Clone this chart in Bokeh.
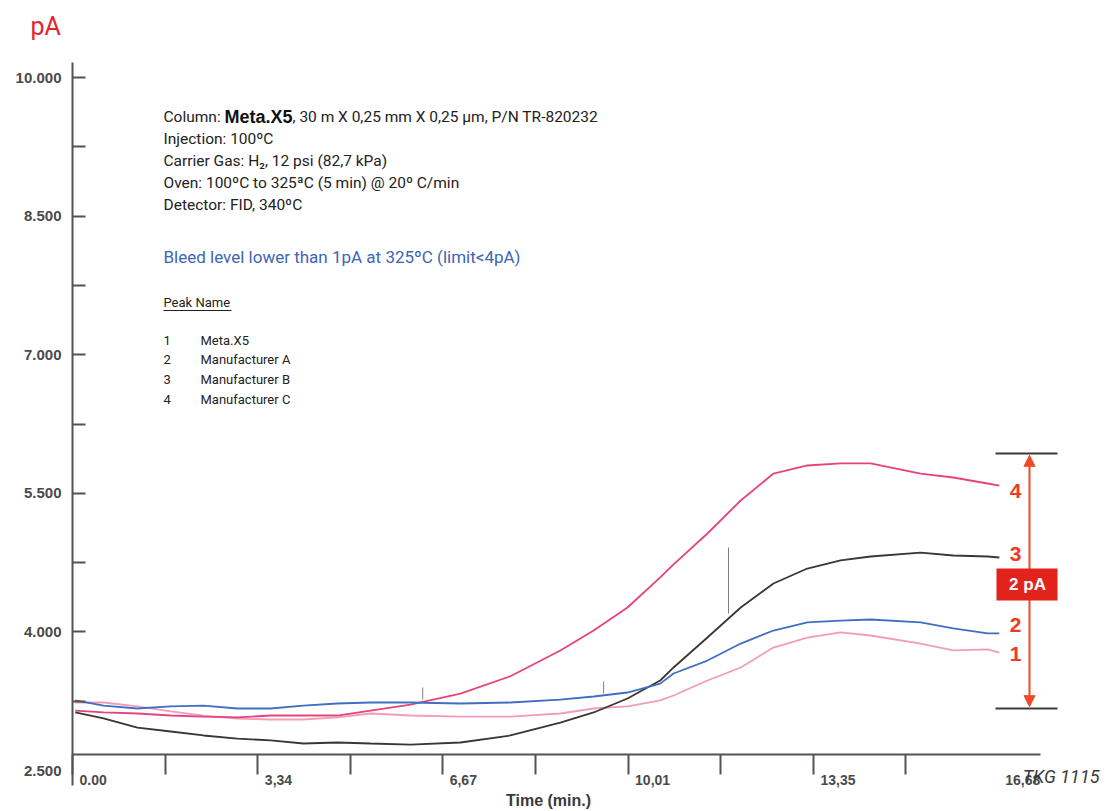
import numpy as np
from bokeh.plotting import figure
from bokeh.models import (LinearAxis, FixedTicker, NumeralTickFormatter, Arrow,
                          NormalHead, Range1d, CustomJSTickFormatter)
from bokeh.core.properties import value
from bokeh.embed import file_html
from bokeh.resources import INLINE

# ---------------- data ----------------
time_min = [0.05, 0.56, 1.17, 1.77, 2.36, 2.97, 3.57, 4.16, 4.77, 5.37, 6.09, 6.99,
            7.89, 8.79, 9.39, 10.00, 10.59, 10.83, 11.44, 12.04, 12.63, 13.24,
            13.84, 14.38, 15.28, 15.87, 16.49, 16.70]

meta_x5 = [3.236, 3.236, 3.193, 3.139, 3.095, 3.063, 3.052, 3.052, 3.074, 3.117,
           3.095, 3.084, 3.084, 3.117, 3.171, 3.193, 3.258, 3.312, 3.474, 3.615,
           3.831, 3.939, 3.994, 3.961, 3.874, 3.799, 3.810, 3.777]
manuf_a = [3.258, 3.203, 3.171, 3.193, 3.203, 3.171, 3.171, 3.203, 3.225, 3.236,
           3.236, 3.225, 3.236, 3.268, 3.301, 3.344, 3.440, 3.550, 3.690, 3.874,
           4.015, 4.102, 4.123, 4.134, 4.102, 4.037, 3.983, 3.983]
manuf_b = [3.128, 3.063, 2.965, 2.922, 2.879, 2.846, 2.825, 2.792, 2.803, 2.792,
           2.781, 2.803, 2.879, 3.019, 3.128, 3.279, 3.474, 3.615, 3.939, 4.264,
           4.524, 4.686, 4.773, 4.816, 4.859, 4.827, 4.816, 4.805]
manuf_c = [3.149, 3.128, 3.117, 3.095, 3.084, 3.074, 3.095, 3.095, 3.095, 3.149,
           3.214, 3.333, 3.520, 3.799, 4.015, 4.264, 4.590, 4.730, 5.065, 5.422,
           5.714, 5.801, 5.823, 5.823, 5.714, 5.671, 5.606, 5.584]

# small spikes in the traces
spike_t = [6.31, 9.57, 11.82]
spike_base = [3.268, 3.333, 4.199]
spike_top = [3.398, 3.463, 4.913]

peak_numbers = ["1", "2", "3", "4"]
peak_names = ["Meta.X5", "Manufacturer A", "Manufacturer B", "Manufacturer C"]
peak_label_values = [3.766, 4.080, 4.848, 5.530]

x_tick_values = [0, 3.34, 6.67, 10.01, 13.35, 16.68]
x_tick_labels = ["0.00", "3,34", "6,67", "10,01", "13,35", "16,68"]
x_minor_ticks = [1.67, 5.0, 8.34, 11.68, 15.01]
y_major_ticks = [4, 5.5, 7, 8.5, 10]
y_minor_ticks = [3.25, 4.75, 6.25, 7.75, 9.25]

bracket_low = 3.171
bracket_high = 5.931
bracket_label = "2 pA"

# ---------------- layout helpers ----------------
X0_PAGE, PX_MIN = 72.0, 55.5          # page x of t=0, pixels per minute
Y25_PAGE, PX_UNIT = 770.0, 92.4       # page y of 2.500, pixels per unit


def tx(px):
    return (px - X0_PAGE) / PX_MIN


def vy(py):
    return 2.5 + (Y25_PAGE - py) / PX_UNIT


W, H = 1104, 810
NARROW = "Roboto"
SANS = "Liberation Sans"
AX = "#57524d"

p = figure(width=W, height=H, x_range=Range1d(tx(0), tx(W)),
           y_range=Range1d(vy(H), vy(0)), x_axis_type=None, y_axis_type=None,
           toolbar_location=None, output_backend="svg", min_border=0,
           outline_line_color=None, background_fill_color="white")
p.title.visible = False

# ---------------- axes ----------------
yaxis = LinearAxis(fixed_location=0, bounds=(vy(785), vy(62)),
                   ticker=FixedTicker(ticks=y_major_ticks, minor_ticks=y_minor_ticks),
                   formatter=NumeralTickFormatter(format="0.000"),
                   major_tick_in=13, major_tick_out=0, minor_tick_in=13, minor_tick_out=0,
                   axis_line_color=AX, axis_line_width=2,
                   major_tick_line_color=AX, major_tick_line_width=2,
                   minor_tick_line_color=AX, minor_tick_line_width=2,
                   major_label_text_font=SANS, major_label_text_font_style="bold",
                   major_label_text_font_size="15px", major_label_text_color="#4a4a4a",
                   major_label_standoff=11)
p.add_layout(yaxis, "left")

xaxis = LinearAxis(fixed_location=vy(754), bounds=(0, tx(1040)),
                   ticker=FixedTicker(ticks=x_tick_values[:-1], minor_ticks=x_minor_ticks),
                   formatter=CustomJSTickFormatter(code="return ''"),
                   major_tick_in=0, major_tick_out=20, minor_tick_in=0, minor_tick_out=20,
                   axis_line_color=AX, axis_line_width=2,
                   major_tick_line_color=AX, major_tick_line_width=2,
                   minor_tick_line_color=AX, minor_tick_line_width=2)
p.add_layout(xaxis, "below")

# x tick labels, right of each tick
p.text(x=x_tick_values, y=[vy(779)] * len(x_tick_values), text=x_tick_labels,
       x_offset=7, text_font=value(SANS), text_font_style="bold",
       text_font_size="14px", text_color="#4a4a4a", text_align="left",
       text_baseline="middle")
p.text(x=[0], y=[2.5], text=["2.500"], x_offset=-11, text_font=value(SANS),
       text_font_style="bold", text_font_size="15px", text_color="#4a4a4a",
       text_align="right", text_baseline="middle")
p.text(x=[tx(548)], y=[vy(800)], text=["Time (min.)"], text_font=value(SANS),
       text_font_style="bold", text_font_size="16px", text_color="#3a3a3a",
       text_align="center", text_baseline="middle")
p.text(x=[tx(30)], y=[vy(26)], text=["pA"], text_font=value(NARROW),
       text_font_size="25px", text_color="#e8232b", text_align="left",
       text_baseline="alphabetic")
p.text(x=[tx(1099)], y=[vy(776)], text=["TKG 1115"], text_font=value(NARROW),
       text_font_style="italic", text_font_size="18px", text_color="#3a3a3a",
       text_align="right", text_baseline="middle")

# ---------------- traces ----------------
p.line(time_min, meta_x5, line_color="#f29db6", line_width=1.8)
p.line(time_min, manuf_c, line_color="#e5437c", line_width=1.8)
p.line(time_min, manuf_b, line_color="#3b3631", line_width=1.8)
p.line(time_min, manuf_a, line_color="#3f6fc2", line_width=1.8)
p.segment(x0=spike_t, y0=spike_base, x1=spike_t, y1=spike_top,
          line_color="#8a7c7c", line_width=1)

# ---------------- text block ----------------
TX0 = tx(163)
TXT = "#222222"
kw = dict(text_font=value(NARROW), text_font_size="15.5px", text_color=TXT,
          text_align="left", text_baseline="middle")
p.text(x=[TX0], y=[vy(116)], text=["Column:"], **kw)
p.text(x=[TX0], y=[vy(116)], text=["Meta.X5"], x_offset=61, text_font=value(SANS),
       text_font_style="bold", text_font_size="18px", text_color="#111111",
       text_align="left", text_baseline="middle")
p.text(x=[TX0], y=[vy(116)], text=[", 30 m X 0,25 mm X 0,25 µm, P/N TR-820232"],
       x_offset=129, **kw)
p.text(x=[TX0] * 4, y=[vy(138), vy(160), vy(182), vy(204)],
       text=["Injection: 100ºC", "Carrier Gas: H₂, 12 psi (82,7 kPa)",
             "Oven: 100ºC to 325ªC (5 min) @ 20º C/min", "Detector: FID, 340ºC"], **kw)
p.text(x=[TX0], y=[vy(256)], text=["Bleed level lower than 1pA at 325ºC (limit<4pA)"],
       text_font=value(NARROW), text_font_size="17px", text_color="#3d66b3",
       text_align="left", text_baseline="middle")
kw2 = dict(text_font=value(NARROW), text_font_size="13px", text_color=TXT,
           text_align="left", text_baseline="middle")
p.text(x=[TX0], y=[vy(302)], text=["Peak Name"], **kw2)
p.segment(x0=[TX0], y0=[vy(310)], x1=[tx(231)], y1=[vy(310)], line_color=TXT,
          line_width=1)
leg_y = [vy(340), vy(359), vy(379), vy(399)]
p.text(x=[TX0] * 4, y=leg_y, text=peak_numbers, **kw2)
p.text(x=[tx(200)] * 4, y=leg_y, text=peak_names, **kw2)

# ---------------- right bracket ----------------
p.segment(x0=[tx(995)] * 2, y0=[bracket_low, bracket_high], x1=[tx(1057)] * 2,
          y1=[bracket_low, bracket_high], line_color="#3a3a3a", line_width=2)
RED = "#ee4a2a"
arrow = Arrow(x_start=tx(1029), y_start=bracket_low + 0.02, x_end=tx(1029),
              y_end=bracket_high - 0.02, line_color=RED, line_width=2,
              start=NormalHead(size=11, fill_color=RED, line_color=RED),
              end=NormalHead(size=11, fill_color=RED, line_color=RED), level="underlay")
p.add_layout(arrow)
p.quad(left=[tx(996)], right=[tx(1057)], bottom=[vy(600)], top=[vy(568)],
       fill_color="#e2231c", line_color=None)
p.text(x=[tx(1027)], y=[vy(584)], text=[bracket_label], text_font=value(SANS),
       text_font_style="bold", text_font_size="17px", text_color="white",
       text_align="center", text_baseline="middle")
p.text(x=[tx(1015)] * 4, y=peak_label_values, text=peak_numbers, text_font=value(SANS),
       text_font_style="bold", text_font_size="21px", text_color="#ed3b25",
       text_align="center", text_baseline="middle")

open("out.html", "w").write(file_html(p, INLINE))
